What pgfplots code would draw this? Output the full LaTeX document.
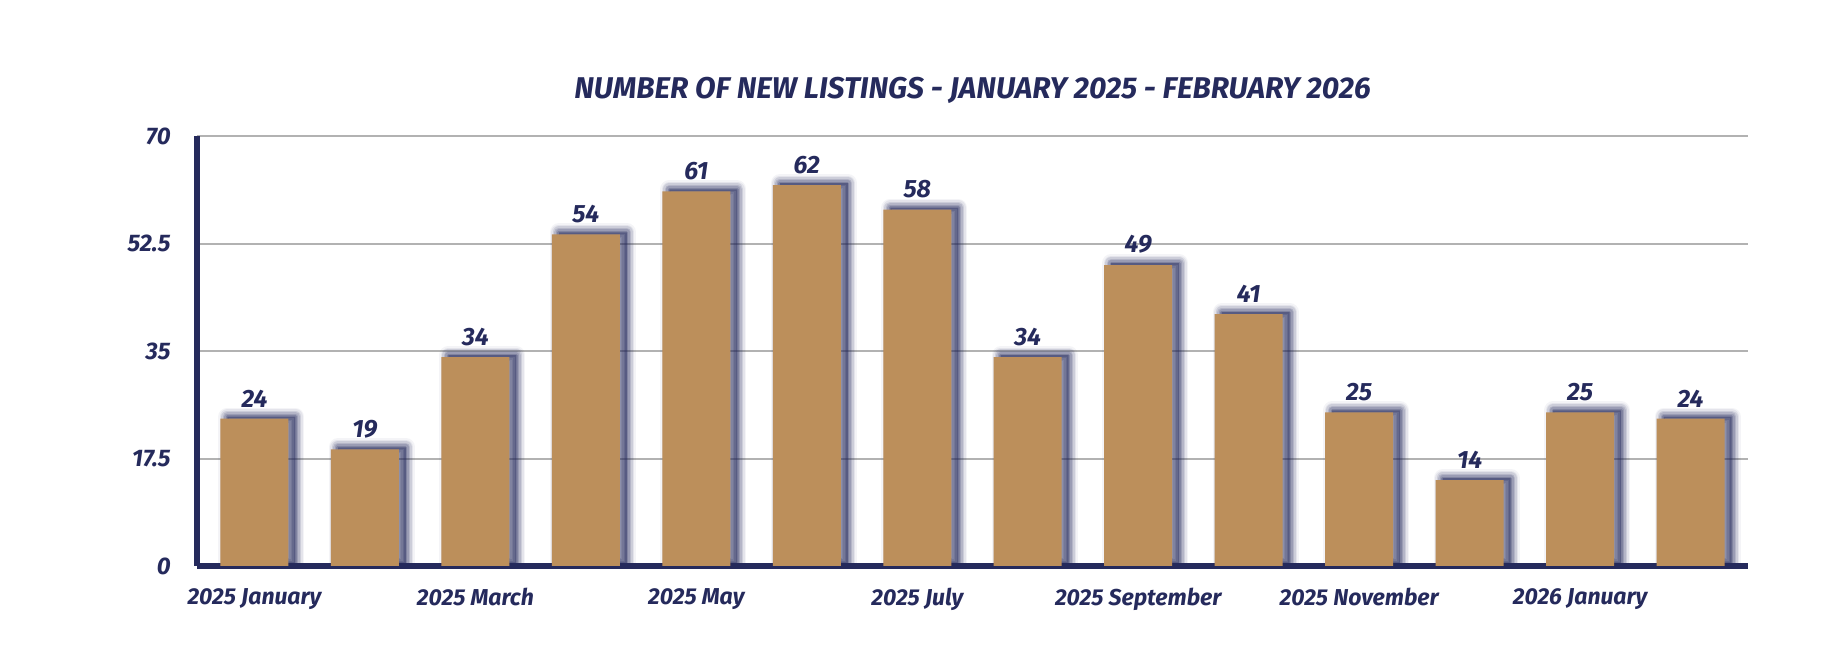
\documentclass[border=0pt]{standalone}
\usepackage{fontspec}
\setmainfont{Fira Sans}
\usepackage{pgfplots}
\usepackage{pgfplotstable}
\pgfplotsset{compat=1.18}
\definecolor{navy}{RGB}{37,42,92}
\definecolor{tan}{RGB}{188,143,91}
\definecolor{gridgrey}{RGB}{178,178,178}
\pgfplotstableread{
x y
0 24
1 19
2 34
3 54
4 61
5 62
6 58
7 34
8 49
9 41
10 25
11 14
12 25
13 24
}\listings
\pgfplotsset{
  layers/mylayers/.define layer set={axis background,axis grid,main,axis ticks,axis lines,axis tick labels,axis descriptions,axis foreground}{},
  shadowlayer/.style={ybar, bar width=34pt, bar shift=3.5pt, yshift=1pt, forget plot, fill=none, draw=navy, line join=round, draw opacity=#1},
}
\begin{document}
\begin{tikzpicture}
\begin{axis}[
  set layers=mylayers,
  /pgf/number format/assume math mode=true,
  at={(0pt,0pt)}, anchor=south west,
  scale only axis, width=775.5pt, height=215pt,
  xmin=-0.52, xmax=13.52, ymin=0, ymax=70,
  axis x line*=bottom, axis y line*=left,
  axis line style={navy, line width=3pt, -},
  xtick={0,2,4,6,8,10,12},
  xticklabels={2025 January,2025 March,2025 May,2025 July,2025 September,2025 November,2026 January},
  ytick={0,17.5,35,52.5,70},
  yticklabels={0,17.5,35,52.5,70},
  major tick length=0pt,
  ymajorgrids, grid style={gridgrey, line width=1pt},
  tick label style={font=\fontsize{11.5pt}{13pt}\selectfont\bfseries\itshape, text=navy},
  yticklabel style={inner sep=0pt, xshift=-13pt, font=\fontsize{12pt}{13pt}\selectfont\bfseries\itshape},
  xticklabel style={inner sep=0pt, yshift=-11pt},
  title={NUMBER OF NEW LISTINGS - JANUARY 2025 - FEBRUARY 2026},
  title style={at={(0.5,1)}, anchor=base, yshift=13pt, inner sep=0pt, text=navy, font=\fontsize{15pt}{17pt}\selectfont\bfseries\itshape},
]
\addplot[ybar, bar width=34pt, bar shift=3.5pt, yshift=1pt, forget plot, fill=navy, fill opacity=0.45, draw=none] table[x=x,y=y] {\listings};
\addplot[shadowlayer=0.22, line width=1.5pt] table[x=x,y=y] {\listings};
\addplot[shadowlayer=0.18, line width=3pt] table[x=x,y=y] {\listings};
\addplot[shadowlayer=0.15, line width=4.5pt] table[x=x,y=y] {\listings};
\addplot[shadowlayer=0.12, line width=6pt] table[x=x,y=y] {\listings};
\addplot[shadowlayer=0.08, line width=7.5pt] table[x=x,y=y] {\listings};
\addplot[shadowlayer=0.05, line width=9pt] table[x=x,y=y] {\listings};
\addplot[ybar, bar width=34pt, bar shift=0pt, fill=tan, draw=none,
  nodes near coords,
  every node near coord/.append style={anchor=south, inner sep=0pt, yshift=5.5pt, text=navy, opacity=1, font=\fontsize{12.5pt}{14pt}\selectfont\bfseries\itshape}
] table[x=x,y=y] {\listings};
\end{axis}
\path (-98.5pt,-51pt) rectangle (821.5pt,283pt);
\end{tikzpicture}
\end{document}
